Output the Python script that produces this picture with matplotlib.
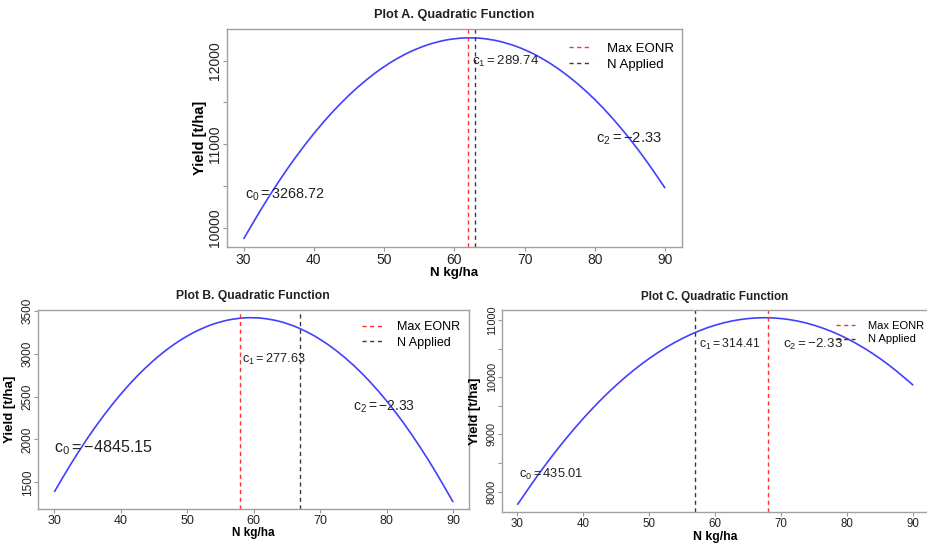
import matplotlib
matplotlib.use("Agg")
import matplotlib.pyplot as plt
from matplotlib.path import Path
from matplotlib.patches import PathPatch

plt.rcParams['font.family'] = 'Liberation Sans'
plt.rcParams['mathtext.fontset'] = 'custom'
plt.rcParams['mathtext.rm'] = 'Liberation Sans'
plt.rcParams['mathtext.it'] = 'Liberation Sans'

# N rate (kg/ha) and fitted yield
n_rate = [30, 32.5, 35, 37.5, 40, 42.5, 45, 47.5, 50, 52.5, 55, 57.5, 60,
          62.5, 65, 67.5, 70, 72.5, 75, 77.5, 80, 82.5, 85, 87.5, 90]

yield_a = [9864, 10224, 10555, 10857, 11130, 11374, 11589, 11774, 11931,
           12058, 12156, 12225, 12265, 12276, 12258, 12210, 12134, 12028,
           11893, 11729, 11536, 11314, 11062, 10782, 10472]
yield_b = [1387, 1717, 2018, 2289, 2532, 2746, 2930, 3085, 3211, 3308, 3376,
           3415, 3425, 3405, 3357, 3279, 3172, 3036, 2871, 2677, 2453, 2201,
           1919, 1608, 1269]
yield_c = [7770, 8192, 8585, 8949, 9283, 9589, 9865, 10112, 10331, 10519,
           10679, 10810, 10912, 10984, 11027, 11042, 11027, 10983, 10910,
           10807, 10676, 10515, 10326, 10107, 9859]

eonr = {'A': 62, 'B': 58, 'C': 68}        # Max EONR (red)
n_applied = {'A': 63, 'B': 67, 'C': 57}   # N Applied (black)

coef_text = {
    'A': [r'$\mathrm{c}_0 = 3268.72$', r'$\mathrm{c}_1 = 289.74$', r'$\mathrm{c}_2 = -2.33$'],
    'B': [r'$\mathrm{c}_0 = -4845.15$', r'$\mathrm{c}_1 = 277.63$', r'$\mathrm{c}_2 = -2.33$'],
    'C': [r'$\mathrm{c}_0 = 435.01$', r'$\mathrm{c}_1 = 314.41$', r'$\mathrm{c}_2 = -2.33$'],
}

x_ticks = [30, 40, 50, 60, 70, 80, 90]
y_major = {'A': [10000, 11000, 12000],
           'B': [1500, 2000, 2500, 3000, 3500],
           'C': [8000, 9000, 10000, 11000]}
y_minor = {'A': [10500, 11500], 'B': [], 'C': [8500, 9500, 10500]}


def smooth_curve(xs, ys):
    # quadratic bezier through midpoints, keeps the fitted curve smooth
    verts = [(xs[0], ys[0])]
    codes = [Path.MOVETO]
    for i in range(1, len(xs) - 1):
        mx = (xs[i] + xs[i + 1]) / 2
        my = (ys[i] + ys[i + 1]) / 2
        if i == 1:
            verts.append(((xs[0] + xs[1]) / 2, (ys[0] + ys[1]) / 2))
            codes.append(Path.LINETO)
        verts += [(xs[i], ys[i]), (mx, my)]
        codes += [Path.CURVE3, Path.CURVE3]
    verts.append((xs[-1], ys[-1]))
    codes.append(Path.LINETO)
    return Path(verts, codes)


fig = plt.figure(figsize=(9.27, 5.43), dpi=100)

# layout of the three panels
panels = {
    'A': dict(pos=[0.2446, 0.5451, 0.4911, 0.4006], y=yield_a,
              title_xy=(0.4898, 0.9724), title_fs=9.2,
              xtick_fs=10, ytick_fs=10, xlab_fs=9.6, ylab_fs=10.5,
              xlab_y=-0.12, ylab_x=-0.0586,
              coef_xy=[(35.9, 10391), (67.3, 11988), (84.9, 11059)],
              coef_fs=[10.4, 9.6, 10.6],
              leg_xy=(0.752, 0.94), leg_fs=9.5),
    'B': dict(pos=[0.0413, 0.0617, 0.4647, 0.3674], y=yield_b,
              title_xy=(0.2724, 0.4554), title_fs=8.7,
              xtick_fs=9, ytick_fs=8.5, xlab_fs=8.5, ylab_fs=9.5,
              xlab_y=-0.12, ylab_x=-0.0657,
              coef_xy=[(37.4, 1910), (63.0, 2930), (79.6, 2380)],
              coef_fs=[11.6, 9.2, 10.0],
              leg_xy=(0.751, 0.945), leg_fs=9),
    'C': dict(pos=[0.541, 0.0565, 0.4612, 0.3726], y=yield_c,
              title_xy=(0.7713, 0.4536), title_fs=8.4,
              xtick_fs=8.3, ytick_fs=7.8, xlab_fs=8.8, ylab_fs=9.5,
              xlab_y=-0.12, ylab_x=-0.062,
              coef_xy=[(35.2, 8300), (62.2, 10565), (74.75, 10565)],
              coef_fs=[9.3, 8.8, 9.6],
              leg_xy=(0.782, 0.945), leg_fs=8),
}

for key, p in panels.items():
    ax = fig.add_axes(p['pos'])
    ax.add_patch(PathPatch(smooth_curve(n_rate, p['y']), fill=False,
                           edgecolor='#4040ff', linewidth=1.2))
    ax.axvline(eonr[key], color='#ff3030', linestyle=(0, (3, 2.5)),
               linewidth=1.0, label='Max EONR')
    ax.axvline(n_applied[key], color='#3a3a3a', linestyle=(0, (3, 2.5)),
               linewidth=1.0, label='N Applied')
    ax.autoscale_view()
    ax.set_xlim(27.6, 92.4)
    ax.set_ylim(min(p['y']) - 0.04 * (max(p['y']) - min(p['y'])),
                max(p['y']) + 0.04 * (max(p['y']) - min(p['y'])))

    ax.set_xticks(x_ticks)
    ax.set_yticks(y_major[key])
    ax.set_yticks(y_minor[key], minor=True)
    ax.tick_params(which='both', direction='out', length=3, width=0.8,
                   color='#999999', labelcolor='#222222', pad=1.5)
    ax.tick_params(axis='x', labelsize=p['xtick_fs'], pad=1)
    ax.tick_params(axis='y', labelsize=p['ytick_fs'], labelrotation=90, pad=0.3)
    for lab in ax.get_yticklabels():
        lab.set_va('center')
    for s in ax.spines.values():
        s.set_color('#a0a0a0')
        s.set_linewidth(1.0)

    ax.set_xlabel('N kg/ha', fontsize=p['xlab_fs'], fontweight='bold', va='center')
    ax.xaxis.set_label_coords(0.5, p['xlab_y'])
    ax.set_ylabel('Yield [t/ha]', fontsize=p['ylab_fs'], fontweight='bold', va='center')
    ax.yaxis.set_label_coords(p['ylab_x'], 0.5)

    fig.text(p['title_xy'][0], p['title_xy'][1], f'Plot {key}. Quadratic Function',
             ha='center', va='center', fontsize=p['title_fs'], fontweight='bold',
             color='#222222')

    for txt, xy, fs in zip(coef_text[key], p['coef_xy'], p['coef_fs']):
        ax.text(xy[0], xy[1], txt, ha='center', va='center', fontsize=fs,
                color='#222222')

    ax.legend(loc='upper left', bbox_to_anchor=p['leg_xy'], frameon=False,
              fontsize=p['leg_fs'], handlelength=1.75, handletextpad=1.1,
              borderpad=0, borderaxespad=0, labelspacing=0.3)

fig.savefig('out.png', dpi=100)
